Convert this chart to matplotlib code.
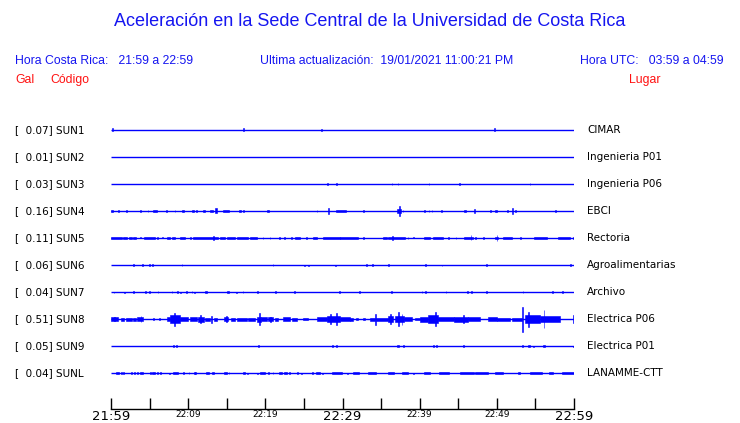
import matplotlib
matplotlib.use("Agg")
import matplotlib.pyplot as plt

# station table, top to bottom
CODES = ["SUN1", "SUN2", "SUN3", "SUN4", "SUN5", "SUN6", "SUN7", "SUN8", "SUN9", "SUNL"]
PGA = [0.07, 0.01, 0.03, 0.16, 0.11, 0.06, 0.04, 0.51, 0.05, 0.04]
PLACES = ["CIMAR", "Ingenieria P01", "Ingenieria P06", "EBCI", "Rectoria",
          "Agroalimentarias", "Archivo", "Electrica P06", "Electrica P01", "LANAMME-CTT"]

TICK_MIN = list(range(0, 61, 5))
LABEL_MIN = [0, 10, 20, 30, 40, 50, 60]
LABELS = ["21:59", "22:09", "22:19", "22:29", "22:39", "22:49", "22:59"]
BIG_LABELS = ["21:59", "22:29", "22:59"]

# bursts: (start min, end min, half amplitude in px)
SUN1 = [(0.1, 0.2, 1.5), (17.2, 17.2, 1.5), (27.3, 27.3, 1.0), (49.6, 49.7, 1.5)]
SUN2 = []
SUN3 = [(28.1, 28.1, 1.0), (29.2, 29.2, 1.0), (36.4, 36.4, 1.3), (37.2, 37.2, 1.3),
        (41.2, 41.2, 1.3), (45.2, 45.2, 1.0), (54.3, 54.3, 1.3)]
SUN4 = [(0.0, 0.3, 1.3), (0.95, 0.95, 0.7), (1.9, 2.1, 1.0), (3.8, 3.8, 0.6), (4.8, 4.8, 0.8),
        (5.4, 6.0, 1.0), (7.2, 7.2, 0.7), (8.3, 8.3, 0.8), (9.2, 9.4, 0.8), (10.5, 10.7, 1.0),
        (11.1, 11.1, 0.7), (11.9, 12.2, 1.0), (12.8, 13.2, 1.0), (13.5, 13.7, 2.5),
        (14.5, 15.3, 1.0), (16.6, 16.8, 1.0), (17.2, 17.2, 0.7), (20.2, 20.5, 0.8),
        (26.7, 26.7, 0.8), (28.1, 28.2, 3.3), (29.2, 30.5, 1.0), (32.7, 32.7, 0.6),
        (37.1, 37.6, 2.0), (37.4, 37.4, 4.7), (37.8, 37.9, 1.2), (40.5, 40.7, 1.0),
        (41.2, 41.2, 1.0), (41.6, 41.6, 0.8), (42.8, 42.8, 1.0), (45.7, 46.0, 1.0),
        (47.0, 47.2, 2.0), (49.2, 49.2, 0.8), (49.7, 50.0, 1.3), (51.4, 51.4, 0.8),
        (52.0, 52.1, 2.7), (52.3, 52.5, 1.0), (57.6, 57.6, 0.8)]
SUN5 = [(0.0, 1.4, 1.0), (1.55, 2.1, 0.8), (2.3, 2.7, 0.7), (2.9, 3.2, 0.8), (3.8, 3.8, 0.5),
        (4.3, 5.7, 1.0), (6.0, 6.0, 0.7), (6.7, 6.7, 0.5), (7.3, 7.6, 1.0), (7.9, 8.3, 0.8),
        (8.9, 9.6, 1.0), (10.3, 10.3, 0.6), (10.6, 13.9, 1.0), (13.2, 13.3, 2.0),
        (14.1, 14.8, 0.8), (15.0, 16.1, 1.0), (16.3, 17.8, 1.0), (18.0, 18.9, 0.8),
        (19.7, 19.7, 0.6), (20.6, 20.6, 0.6), (21.8, 21.8, 0.6), (22.5, 22.5, 0.6),
        (23.3, 23.4, 0.8), (23.8, 24.5, 0.8), (25.3, 25.3, 0.6), (26.2, 26.7, 0.8),
        (27.5, 29.7, 1.0), (29.7, 32.0, 1.0), (32.7, 32.8, 0.8), (35.2, 35.8, 0.8),
        (35.9, 38.1, 1.0), (36.4, 36.5, 2.2), (38.5, 38.5, 0.6), (39.2, 39.2, 0.5),
        (40.6, 41.3, 0.9), (41.7, 43.0, 0.9), (43.7, 43.7, 0.6), (44.7, 44.7, 0.6),
        (45.8, 46.9, 1.0), (46.6, 46.7, 2.5), (47.2, 47.2, 0.6), (48.3, 48.3, 0.6),
        (49.8, 50.2, 1.0), (50.0, 50.05, 3.0), (50.8, 52.0, 0.8), (53.1, 53.1, 0.6),
        (54.8, 56.5, 0.9), (57.9, 59.5, 0.9), (59.9, 59.9, 0.6)]
SUN6 = [(2.9, 2.9, 0.8), (4.0, 4.2, 1.0), (5.0, 5.0, 0.8), (5.3, 5.4, 1.2), (9.2, 9.2, 0.8),
        (21.0, 21.0, 0.8), (25.1, 25.1, 0.5), (25.6, 25.6, 0.5), (29.1, 29.1, 0.5),
        (33.1, 33.1, 0.8), (33.9, 33.9, 0.6), (36.0, 36.0, 0.8), (40.8, 40.8, 0.8),
        (42.9, 42.9, 0.5), (48.7, 48.7, 0.8), (59.5, 59.5, 0.8)]
SUN7 = [(0.4, 0.4, 0.5), (1.7, 1.7, 0.5), (2.9, 2.9, 0.8), (4.4, 4.6, 1.0), (5.0, 5.0, 0.8),
        (6.1, 6.1, 0.8), (7.9, 7.9, 0.8), (8.5, 8.7, 1.0), (9.0, 9.0, 0.5), (9.7, 9.9, 1.0),
        (10.5, 10.5, 0.7), (10.8, 10.8, 0.5), (12.2, 12.4, 1.0), (15.0, 15.3, 1.0),
        (16.3, 16.3, 0.5), (17.1, 17.1, 0.8), (19.0, 19.0, 0.8), (21.3, 21.3, 0.8),
        (23.8, 23.8, 0.6), (29.6, 29.6, 0.8), (32.2, 32.2, 0.8), (36.3, 36.3, 0.8),
        (40.3, 40.3, 0.6), (40.8, 40.8, 0.8), (43.4, 43.4, 0.6), (46.2, 46.2, 0.8),
        (46.7, 46.7, 0.6), (48.7, 48.7, 0.8), (53.4, 53.4, 0.6), (57.2, 57.2, 0.6),
        (58.4, 58.6, 0.8)]
SUN8 = [(0.0, 0.95, 2.0), (0.5, 0.5, 2.3), (1.3, 1.7, 1.5), (1.9, 2.7, 1.5), (2.9, 3.2, 1.5),
        (3.4, 4.2, 2.0), (3.85, 3.9, 3.0), (5.5, 5.5, 1.3), (6.3, 6.3, 1.3), (7.2, 7.6, 2.0),
        (7.6, 8.9, 4.0), (8.2, 8.25, 6.5), (8.9, 10.0, 2.0), (10.2, 11.1, 2.0),
        (11.3, 12.0, 2.5), (11.6, 11.65, 4.0), (12.2, 12.8, 1.5), (13.0, 13.0, 3.5),
        (13.3, 13.7, 1.5), (14.6, 15.2, 2.0), (14.9, 14.95, 3.0), (15.6, 16.1, 1.5),
        (16.3, 17.6, 1.5), (17.8, 18.7, 1.5), (18.9, 19.5, 2.5), (19.2, 19.25, 6.0),
        (19.5, 20.2, 2.0), (20.3, 21.0, 2.0), (20.6, 20.65, 2.5), (21.3, 21.6, 1.5),
        (22.3, 23.2, 2.0), (23.4, 24.1, 1.5), (24.9, 25.5, 1.3), (26.7, 28.0, 2.0),
        (28.0, 29.7, 3.0), (28.4, 28.45, 5.0), (29.2, 29.25, 6.0), (29.7, 31.0, 2.0),
        (31.0, 31.4, 1.5), (31.8, 32.0, 1.0), (32.7, 32.9, 1.0), (33.5, 34.2, 1.5),
        (34.3, 34.35, 5.5), (34.4, 35.9, 1.5), (35.9, 36.6, 3.0), (36.2, 36.25, 5.0),
        (36.8, 38.0, 3.0), (37.2, 37.25, 7.0), (37.7, 37.75, 5.5), (38.0, 39.0, 2.0),
        (39.4, 40.0, 1.3), (40.0, 41.1, 2.5), (41.1, 42.4, 4.0), (42.0, 42.05, 7.0),
        (42.4, 44.4, 2.0), (44.4, 46.3, 2.5), (45.7, 45.75, 4.0), (46.3, 47.8, 2.0),
        (48.9, 50.0, 2.0), (50.0, 51.7, 1.5), (52.0, 53.2, 1.5), (53.3, 53.35, 12.5),
        (53.7, 55.6, 4.0), (54.1, 54.15, 7.5), (56.1, 56.15, 9.0), (55.6, 58.2, 3.0),
        (59.9, 59.95, 4.0)]
SUN9 = [(8.0, 8.2, 1.0), (8.5, 8.5, 0.6), (19.1, 19.1, 1.0), (28.7, 28.7, 0.6),
        (29.2, 29.2, 0.6), (37.1, 37.3, 1.0), (37.9, 37.9, 0.7), (41.7, 41.9, 1.0),
        (42.2, 42.2, 0.7), (45.7, 45.7, 0.6), (53.3, 53.3, 0.6), (54.1, 54.3, 0.8),
        (54.8, 54.8, 0.5), (56.0, 56.2, 0.8), (59.9, 59.9, 0.5)]
SUNL = [(0.7, 1.0, 1.0), (1.4, 1.4, 0.7), (1.6, 1.6, 0.8), (2.7, 2.7, 0.6), (3.0, 3.0, 0.6),
        (3.4, 3.4, 0.6), (3.8, 4.1, 0.8), (5.1, 5.1, 0.8), (5.3, 5.7, 1.0), (6.0, 6.0, 0.6),
        (6.4, 6.4, 0.6), (7.6, 7.6, 0.5), (8.0, 8.7, 1.0), (9.4, 9.4, 0.6), (10.1, 10.1, 0.8),
        (10.8, 10.8, 0.8), (11.0, 11.0, 0.6), (12.3, 12.7, 1.0), (13.1, 13.3, 0.8),
        (14.6, 15.0, 0.8), (15.3, 15.3, 0.8), (17.1, 17.4, 0.8), (17.6, 17.8, 0.5),
        (19.0, 19.0, 0.5), (19.3, 20.0, 1.0), (20.4, 20.4, 0.6), (21.0, 21.0, 0.6),
        (21.8, 22.1, 1.0), (22.4, 22.8, 0.8), (23.1, 23.1, 0.8), (24.2, 24.2, 0.8),
        (24.7, 24.7, 0.5), (26.1, 26.1, 0.6), (26.6, 27.1, 0.8), (27.4, 27.4, 0.5),
        (28.6, 29.9, 0.8), (30.6, 30.6, 0.5), (31.3, 32.2, 0.7), (33.3, 34.4, 0.8),
        (35.9, 36.7, 0.8), (37.7, 38.5, 0.8), (39.2, 39.2, 0.5), (40.6, 41.4, 0.8),
        (42.5, 43.8, 0.8), (45.2, 47.0, 0.8), (47.2, 48.9, 0.8), (49.8, 50.8, 0.8),
        (52.8, 53.0, 0.6), (54.3, 55.8, 0.8), (56.7, 57.3, 0.6), (58.4, 60.0, 0.8)]
BURSTS = [SUN1, SUN2, SUN3, SUN4, SUN5, SUN6, SUN7, SUN8, SUN9, SUNL]

W, H = 740, 423
BLUE = "#0000ff"
TXT_BLUE = "#1515f0"
RED = "#ff1010"
SP = 27.0  # px between traces

fig = plt.figure(figsize=(W / 100, H / 100), dpi=100)


def fx(px):
    return px / W


def fy(py):
    return 1 - py / H


# axes: x from 111 px to 574 px, bottom spine at 409 px, trace 0 at 130 px
ax = fig.add_axes([fx(111), fy(409), (574 - 111) / W, (409 - 117) / H])
ax.set_xlim(0, 60)
ax.set_ylim((409 - 130) / SP, (117 - 130) / SP)
for s in ("top", "left", "right"):
    ax.spines[s].set_visible(False)
ax.spines["bottom"].set_linewidth(1.0)
ax.set_yticks([])
ax.set_xticks(TICK_MIN)
ax.set_xticklabels([LABELS[LABEL_MIN.index(m)] if m in LABEL_MIN else "" for m in TICK_MIN])
ax.tick_params(axis="x", direction="in", length=8, width=1, pad=1)
for lab in ax.get_xticklabels():
    lab.set_fontsize(9.5 if lab.get_text() in BIG_LABELS else 6.5)
    lab.set_family("DejaVu Sans")

for i, bursts in enumerate(BURSTS):
    ax.plot([0, 60], [i, i], color=BLUE, lw=1.0, solid_capstyle="butt")
    for t0, t1, a in bursts:
        w = max(t1 - t0, 0.1)
        ax.bar((t0 + t1) / 2, 2 * a / SP, width=w, bottom=i - a / SP,
               color=BLUE, edgecolor=BLUE, linewidth=0.4)
    fig.text(fx(15), fy(130 + SP * i), f"[  {PGA[i]:.2f}] {CODES[i]}",
             fontsize=7.5, family="DejaVu Sans", va="center", ha="left")
    fig.text(fx(587), fy(130 + SP * i), PLACES[i],
             fontsize=7.5, family="DejaVu Sans", va="center", ha="left")

hfont = "Liberation Sans"
hs = 8.8
fig.text(0.5, fy(22), "Aceleración en la Sede Central de la Universidad de Costa Rica",
         fontsize=13, color=TXT_BLUE, family=hfont, ha="center", va="center")
fig.text(fx(15), fy(61), "Hora Costa Rica:   21:59 a 22:59",
         fontsize=hs, color=TXT_BLUE, family=hfont, ha="left", va="center")
fig.text(fx(260), fy(61), "Ultima actualización:  19/01/2021 11:00:21 PM",
         fontsize=hs, color=TXT_BLUE, family=hfont, ha="left", va="center")
fig.text(fx(580), fy(61), "Hora UTC:   03:59 a 04:59",
         fontsize=hs, color=TXT_BLUE, family=hfont, ha="left", va="center")
fig.text(fx(15), fy(80), "Gal", fontsize=hs, color=RED, family=hfont, ha="left", va="center")
fig.text(fx(50), fy(80), "Código", fontsize=hs, color=RED, family=hfont, ha="left", va="center")
fig.text(fx(629), fy(80), "Lugar", fontsize=hs, color=RED, family=hfont, ha="left", va="center")

fig.savefig("out.png", dpi=100)
